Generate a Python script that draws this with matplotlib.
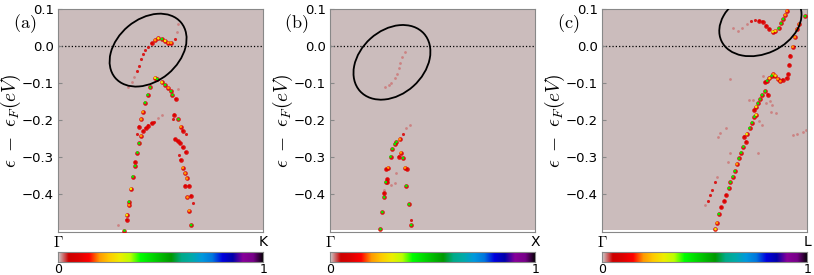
import numpy as np
import matplotlib
matplotlib.use('Agg')
import matplotlib.pyplot as plt
import matplotlib.transforms as mtransforms
from matplotlib.patches import Ellipse

plt.rcParams['mathtext.fontset'] = 'cm'

# spectral weight levels (value on the colour bar)
F, r, R, O, Y, G = 0.03, 0.08, 0.10, 0.20, 0.30, 0.42

# panel (a)  Gamma -> K
k_a = [0.587, 0.579, 0.571, 0.440, 0.457, 0.473, 0.489, 0.506, 0.522, 0.538, 0.551,
       0.424, 0.413, 0.405, 0.395, 0.384, 0.372, 0.359, 0.343,
       0.473, 0.484, 0.506, 0.522, 0.538, 0.551, 0.558, 0.574, 0.587,
       0.449, 0.437, 0.424, 0.413, 0.405, 0.395, 0.405, 0.395, 0.387, 0.376, 0.376,
       0.364, 0.355, 0.346, 0.346, 0.335, 0.335, 0.324, 0.294,
       0.384, 0.416, 0.428, 0.440, 0.457, 0.470, 0.489, 0.506,
       0.567, 0.559, 0.587, 0.598, 0.608, 0.624, 0.571, 0.583, 0.595, 0.608, 0.623,
       0.590, 0.598, 0.608, 0.620, 0.628, 0.620, 0.639, 0.631, 0.649, 0.660, 0.639, 0.649]
e_a = [0.059, 0.039, 0.018, -0.002, 0.007, 0.016, 0.021, 0.019, 0.014, 0.009, 0.009,
       -0.011, -0.022, -0.036, -0.053, -0.067, -0.083, -0.098, -0.110,
       -0.086, -0.089, -0.098, -0.105, -0.113, -0.122, -0.132, -0.143, -0.117,
       -0.112, -0.132, -0.153, -0.178, -0.198, -0.218, -0.243, -0.263, -0.288, -0.314, -0.324,
       -0.353, -0.386, -0.421, -0.430, -0.457, -0.470, -0.499, -0.484,
       -0.238, -0.230, -0.222, -0.215, -0.209, -0.205, -0.195, -0.186,
       -0.186, -0.198, -0.198, -0.218, -0.229, -0.239, -0.252, -0.257, -0.263, -0.274, -0.287,
       -0.295, -0.308, -0.329, -0.344, -0.358, -0.378, -0.378, -0.409, -0.405, -0.425, -0.445, -0.484]
w_a = [F, F, r, r, R, O, Y, G, Y, O, O,
       r, r, r, r, r, F, F, F,
       Y, G, Y, G, O, G, G, R, F,
       G, G, G, O, O, R, O, G, G, R, G,
       G, Y, G, O, Y, R, G, F,
       r, R, R, R, R, r, F, F,
       R, r, G, O, R, r, R, R, R, R, R,
       r, R, O, O, O, R, R, O, R, r, O, G]

# panel (b)  Gamma -> X
k_b = [0.364, 0.353, 0.343, 0.335, 0.325, 0.316, 0.299, 0.288, 0.267,
       0.388, 0.369, 0.356, 0.340, 0.324, 0.316, 0.304, 0.345, 0.295, 0.336, 0.356,
       0.283, 0.275, 0.366, 0.375, 0.324, 0.280, 0.278, 0.272, 0.296, 0.316, 0.372,
       0.264, 0.264, 0.264, 0.385, 0.255, 0.396, 0.396, 0.246]
e_b = [-0.015, -0.029, -0.045, -0.060, -0.076, -0.086, -0.101, -0.106, -0.111,
       -0.214, -0.222, -0.238, -0.252, -0.259, -0.265, -0.278, -0.288, -0.299, -0.299, -0.303,
       -0.329, -0.333, -0.329, -0.333, -0.344, -0.360, -0.367, -0.368, -0.376, -0.369, -0.378,
       -0.389, -0.398, -0.409, -0.428, -0.449, -0.470, -0.484, -0.495]
w_b = [F, F, F, F, F, F, F, F, F,
       F, F, r, O, G, G, G, O, G, R, G,
       O, R, O, R, F, R, R, G, F, F, G,
       F, R, G, G, G, r, G, G]

# panel (c)  Gamma -> L
k_c = [0.637, 0.662, 0.683, 0.705, 0.727, 0.748, 0.767, 0.783, 0.800, 0.816, 0.832, 0.845,
       0.861, 0.873, 0.883, 0.893, 0.901,
       0.990, 0.961, 0.950, 0.940, 0.929, 0.917, 0.913, 0.908, 0.900,
       0.880, 0.869, 0.856, 0.845, 0.835, 0.827, 0.816, 0.805, 0.795, 0.783, 0.625,
       0.795, 0.808, 0.780, 0.770, 0.760, 0.751, 0.743, 0.738, 0.821, 0.829,
       0.751, 0.743, 0.767, 0.731, 0.780, 0.719, 0.705, 0.694, 0.703, 0.689, 0.678, 0.667,
       0.657, 0.647, 0.637, 0.626, 0.618, 0.605, 0.597, 0.581, 0.569, 0.560, 0.553,
       0.602, 0.565, 0.625, 0.612, 0.560, 0.549, 0.537, 0.527, 0.516, 0.503,
       0.848, 0.929, 0.978, 0.994, 0.759, 0.950, 0.573, 0.718, 0.800, 0.824]
e_c = [0.050, 0.041, 0.050, 0.059, 0.068, 0.070, 0.068, 0.066, 0.055, 0.046, 0.039, 0.041,
       0.048, 0.061, 0.073, 0.084, 0.095,
       0.081, 0.059, 0.045, 0.024, -0.002, -0.026, -0.051, -0.076, -0.087,
       -0.091, -0.095, -0.089, -0.080, -0.076, -0.080, -0.087, -0.094, -0.098, -0.081, -0.089,
       -0.122, -0.131, -0.132, -0.144, -0.155, -0.164, -0.173, -0.146, -0.148, -0.159,
       -0.186, -0.191, -0.202, -0.207, -0.214, -0.222, -0.238, -0.245, -0.259, -0.272, -0.288, -0.304,
       -0.319, -0.338, -0.353, -0.368, -0.384, -0.403, -0.419, -0.436, -0.454, -0.478, -0.495,
       -0.222, -0.245, -0.288, -0.313, -0.353, -0.367, -0.389, -0.403, -0.418, -0.430,
       -0.182, -0.241, -0.232, -0.227, -0.290, -0.237, -0.236, -0.146, -0.155, -0.178]
w_c = [F, F, F, F, r, r, R, R, R, R, Y, Y,
       G, G, G, O, O,
       G, O, O, O, O, R, R, R, R,
       R, O, O, Y, O, G, Y, G, R, F, F,
       G, R, G, G, G, Y, R, F, F, F,
       Y, G, F, G, F, G, Y, R, R, G, G, G,
       O, G, G, G, G, R, R, R, G, O, Y,
       F, F, F, F, F, r, r, r, r, F,
       F, F, F, F, F, F, F, F, F, F]

panels = [(k_a, e_a, w_a), (k_b, e_b, w_b), (k_c, e_c, w_c)]
labels = ['(a)', '(b)', '(c)']
ends = ['K', 'X', 'L']
# ellipse: centre (k, E), size in inches, angle
ellipses = [(0.439, -0.011, 0.86, 0.62, 40),
            (0.302, -0.044, 0.86, 0.64, 42),
            (0.772, 0.063, 0.86, 0.62, 25)]

cmap = plt.get_cmap('nipy_spectral_r')
bg = '#cbbcbc'

fig = plt.figure(figsize=(8.14, 2.75), dpi=100)
lefts = [0.0713, 0.4054, 0.7396]
for i in range(3):
    ax = fig.add_axes([lefts[i], 0.156, 0.252, 0.811])
    ax.set_facecolor(bg)
    ax.set_xlim(0, 1)
    ax.set_ylim(-0.503, 0.1)
    ax.axhspan(-0.503, -0.497, color='white', lw=0, zorder=0.5)
    ax.axhline(0, color='black', ls=':', lw=0.9, zorder=1)

    k, e, w = (np.array(v) for v in panels[i])
    faint = w < 0.05
    small = (w >= 0.05) & (w < 0.09)
    big = w >= 0.09
    ax.scatter(k[faint], e[faint], s=4, color=cmap(0.03), lw=0, alpha=0.6, zorder=2)
    ax.scatter(k[small], e[small], s=5, color=cmap(0.09), lw=0, alpha=0.85, zorder=3)
    ax.scatter(k[big], e[big], s=11, color=cmap(0.1), lw=0, alpha=0.9, zorder=4)
    ax.scatter(k[big], e[big], s=3.5, c=w[big], cmap=cmap, vmin=0, vmax=1, lw=0, zorder=5)

    cx, cy, ew, eh, ang = ellipses[i]
    trans = fig.dpi_scale_trans + mtransforms.ScaledTranslation(cx, cy, ax.transData)
    ax.add_patch(Ellipse((0, 0), ew, eh, angle=ang, transform=trans,
                         fill=False, ec='black', lw=1.3, zorder=6))

    ax.set_xticks([])
    ax.set_yticks([0.1, 0.0, -0.1, -0.2, -0.3, -0.4])
    ax.set_yticklabels(['0.1', '0.0', '\u22120.1', '\u22120.2', '\u22120.3', '\u22120.4'])
    ax.tick_params(axis='y', direction='in', length=3, color='#888888', labelsize=9.5, pad=3)
    for sp in ax.spines.values():
        sp.set_color('#888888')
    ax.set_ylabel(r'$\epsilon\ -\ \epsilon_F(eV)$', fontsize=14)
    ax.yaxis.set_label_coords(-0.17, 0.5)
    ax.text(-0.165, 0.935, r'$\mathrm{%s}$' % labels[i], transform=ax.transAxes,
            fontsize=13, ha='center', va='center')

    cax = fig.add_axes([lefts[i], 0.047, 0.252, 0.036])
    cax.imshow(np.linspace(0, 1, 256)[None, :], aspect='auto', cmap=cmap,
               extent=[0, 1, 0, 1])
    cax.set_xticks([])
    cax.set_yticks([])
    for sp in cax.spines.values():
        sp.set_color('#888888')
    cax.text(0, 2.0, r'$\Gamma$', transform=cax.transAxes, ha='center', va='center', fontsize=11)
    cax.text(1, 2.0, ends[i], transform=cax.transAxes, ha='center', va='center', fontsize=10)
    cax.text(0, -0.75, '0', transform=cax.transAxes, ha='center', va='center', fontsize=9)
    cax.text(1, -0.75, '1', transform=cax.transAxes, ha='center', va='center', fontsize=9)

fig.savefig('out.png', dpi=100)
